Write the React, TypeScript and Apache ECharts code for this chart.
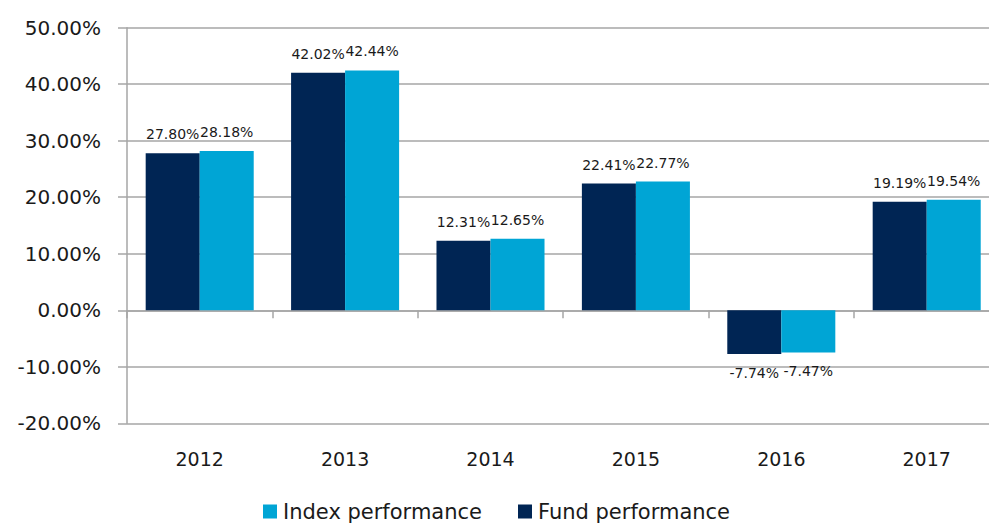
import React, { useEffect, useRef } from "react";
import * as echarts from "echarts";

const categories = ["2012", "2013", "2014", "2015", "2016", "2017"];
const fundValues = [27.8, 42.02, 12.31, 22.41, -7.74, 19.19];
const indexValues = [28.18, 42.44, 12.65, 22.77, -7.47, 19.54];
const seriesNames = ["Fund performance", "Index performance"];
const legendOrder = ["Index performance", "Fund performance"];

const FONT = "DejaVu Sans";
const NAVY = "#002554";
const BLUE = "#00A5D5";
const GRID = "#a6a6a6";
const TEXT = "#1a1a1a";

export default function App() {
  const ref = useRef<HTMLDivElement>(null);
  useEffect(() => {
    if (!ref.current) return;
    const chart = echarts.init(ref.current, undefined, { renderer: "svg" });
    const labelCfg = {
      show: true,
      position: "outside" as any,
      distance: 12,
      fontFamily: FONT,
      fontSize: 14,
      color: TEXT,
      formatter: (p: any) => p.value.toFixed(2) + "%",
    };
    chart.setOption({
      animation: false,
      textStyle: { fontFamily: FONT },
      grid: { left: 127, top: 27.7, right: 0.6, bottom: 102.7, containLabel: false },
      legend: {
        data: legendOrder,
        left: 263,
        top: 501,
        padding: 0,
        itemWidth: 14,
        itemHeight: 14,
        itemGap: 36,
        icon: "rect",
        textStyle: { fontFamily: FONT, fontSize: 21, color: TEXT, padding: [0, 0, 0, 1] },
      },
      xAxis: [
        {
          type: "category",
          data: categories,
          position: "bottom",
          axisLine: { show: false, onZero: false },
          axisTick: { show: false },
          axisLabel: { fontFamily: FONT, fontSize: 19, color: TEXT, margin: 26 },
        },
        {
          type: "category",
          data: categories,
          position: "bottom",
          axisLine: { show: true, onZero: true, lineStyle: { color: GRID, width: 1.5 } },
          axisTick: { show: true, length: 8, lineStyle: { color: GRID, width: 1.5 } },
          axisLabel: { show: false },
        },
      ],
      yAxis: {
        type: "value",
        min: -20,
        max: 50,
        interval: 10,
        axisLine: { show: true, lineStyle: { color: GRID, width: 1.5 } },
        axisTick: { show: true, length: 9, lineStyle: { color: GRID, width: 1.5 } },
        splitLine: { show: true, lineStyle: { color: GRID, width: 1.5 } },
        axisLabel: {
          fontFamily: FONT,
          fontSize: 20,
          color: TEXT,
          margin: 26,
          formatter: (v: number) => v.toFixed(2) + "%",
        },
      },
      series: [
        {
          name: seriesNames[0],
          type: "bar",
          xAxisIndex: 0,
          data: fundValues,
          itemStyle: { color: NAVY },
          barGap: "0%",
          barCategoryGap: "25.7%",
          label: labelCfg,
        },
        {
          name: seriesNames[1],
          type: "bar",
          xAxisIndex: 0,
          data: indexValues,
          itemStyle: { color: BLUE },
          barGap: "0%",
          barCategoryGap: "25.7%",
          label: labelCfg,
        },
      ],
    });
    return () => chart.dispose();
  }, []);
  return (
    <div style={{ width: 989, height: 526, position: "absolute", left: 0, top: 0, overflow: "hidden" }}>
      <div ref={ref} style={{ width: 1000, height: 526 }} />
    </div>
  );
}
